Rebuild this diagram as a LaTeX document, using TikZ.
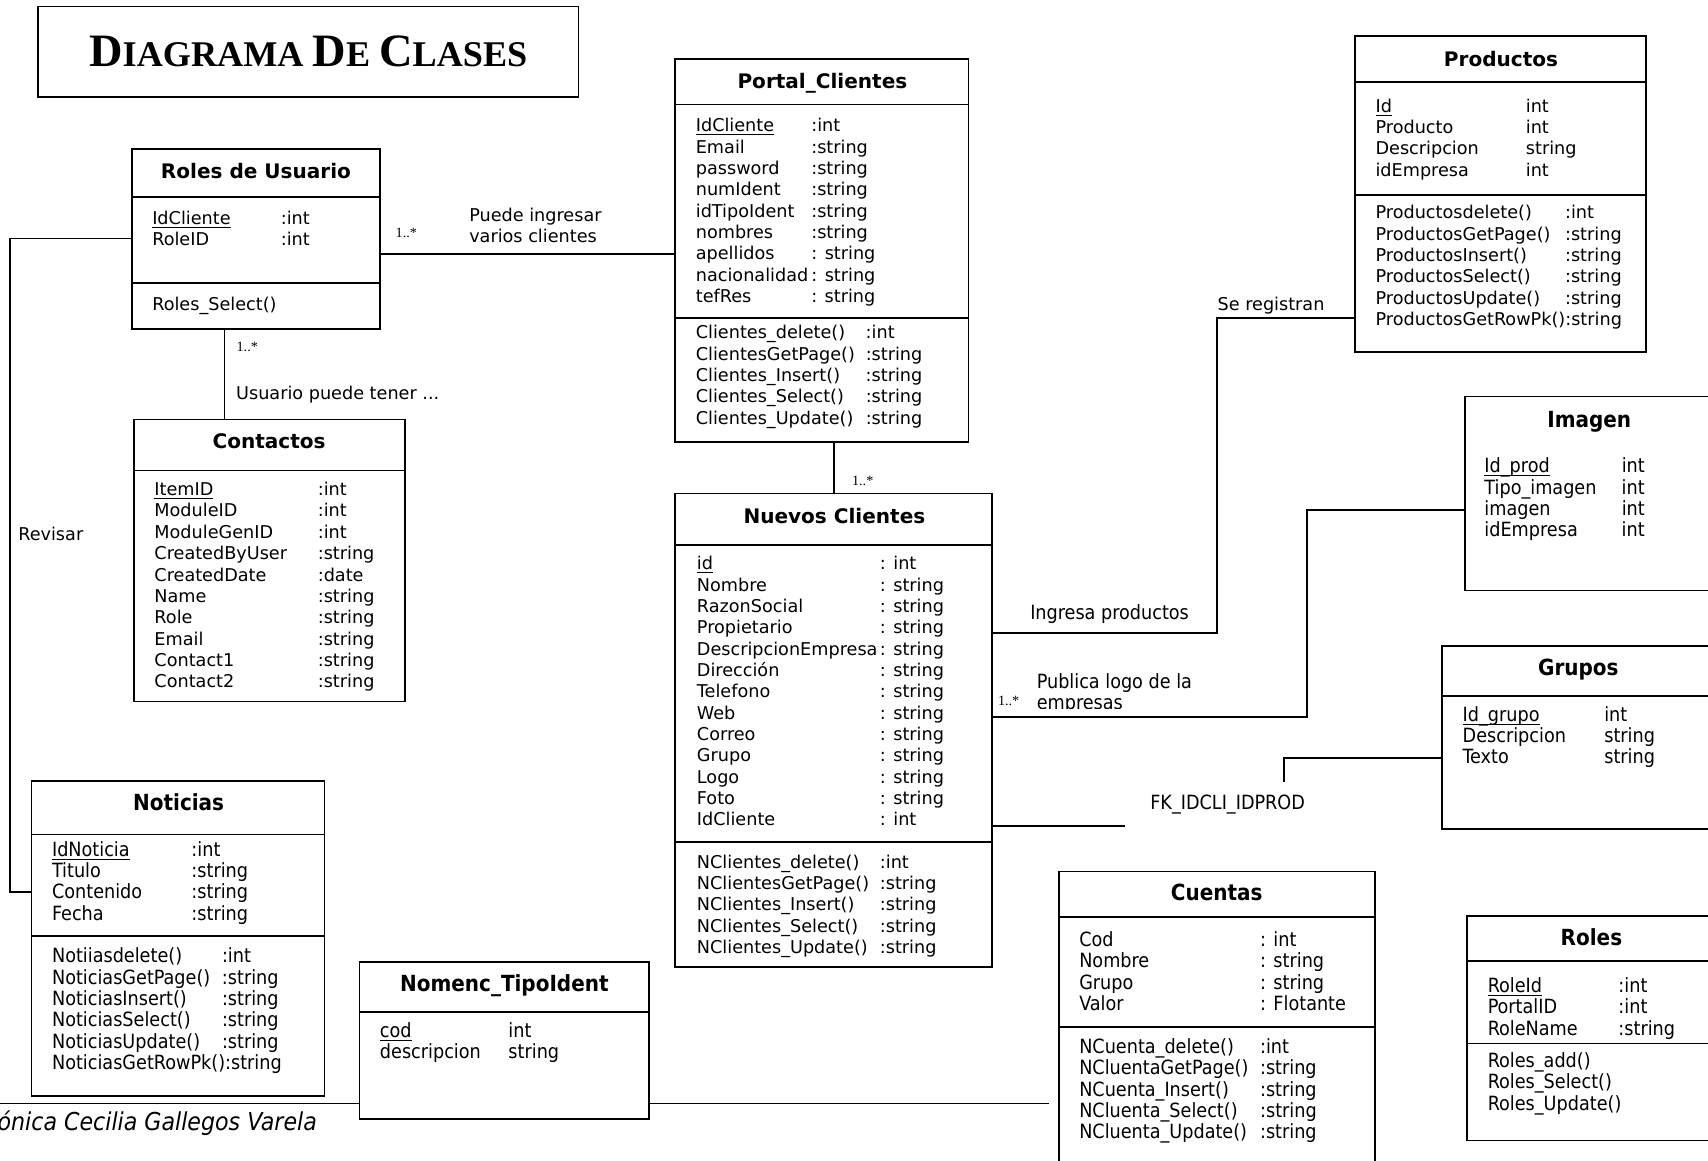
\documentclass[tikz,border=0pt]{standalone}
\usepackage{fontspec}
\setmainfont{DejaVu Sans}
\newfontfamily\condfont{DejaVu Sans Condensed}
\newfontfamily\timesfont{Liberation Serif}
\usetikzlibrary{fit}

% rows of a class box: width of the name column, then name & type rows
\newcommand\clsrows[2]{\begin{tabular}[t]{@{}p{#1}@{}l@{}}#2\end{tabular}}
\newcommand\lblines[1]{\begin{tabular}[t]{@{}l@{}}#1\end{tabular}}
\newcommand\pkey[1]{\underline{\smash{#1}}}
\newcommand\bigsc[2]{{\fontsize{21.3}{24}\selectfont #1}{\fontsize{16.6}{20}\selectfont #2}}

\tikzset{
  cls/.style={draw, inner sep=0pt},
  clstitle/.style={anchor=base, inner sep=0pt, font=\fontsize{9.2}{11}\selectfont\bfseries},
  ctitle/.style={anchor=base, inner sep=0pt, font=\condfont\fontsize{10.2}{12}\selectfont\bfseries},
  body/.style={anchor=base west, inner sep=0pt, font=\fontsize{8.1}{9.8}\selectfont},
  cbody/.style={anchor=base west, inner sep=0pt, font=\condfont\fontsize{9}{9.8}\selectfont},
  mult/.style={anchor=base, inner sep=0pt, font=\timesfont\fontsize{6.5}{7}\selectfont},
}

\begin{document}
\begin{tikzpicture}[x=0.5pt, y=-0.5pt, line width=0.8pt]
    \useasboundingbox (0,0) rectangle (1568,1065);
    \clip (0,0) rectangle (1568,1065);

    % Title
    \node[cls, fit={(35,6) (531,89)}] (titlebox) {};
    \node[anchor=base, inner sep=0pt, font=\timesfont\bfseries\fontsize{16.6}{20}\selectfont] (ttl) at (283,61)
        {\bigsc{D}{IAGRAMA} \bigsc{D}{E} \bigsc{C}{LASES}};

    % Roles de Usuario
    \node[cls, fit={(121,137) (349,302)}] (roles) {};
    \draw (roles.west |- 0,181) -- (roles.east |- 0,181);
    \draw (roles.west |- 0,260) -- (roles.east |- 0,260);
    \node[clstitle] (roles-t) at (235,164) {Roles de Usuario};
    \node[body] (roles-a) at (139,206) {\clsrows{59pt}{\pkey{IdCliente} & :int\\ RoleID & :int}};
    \node[body] (roles-m) at (139,285) {Roles\_Select()};

    % Portal_Clientes
    \node[cls, fit={(620,54) (889,406)}] (portal) {};
    \draw (portal.west |- 0,96) -- (portal.east |- 0,96);
    \draw (portal.west |- 0,292) -- (portal.east |- 0,292);
    \node[clstitle] (portal-t) at (755,81) {Portal\_Clientes};
    \node[body] (portal-a) at (638,121) {\clsrows{53pt}{\pkey{IdCliente} & :int\\ Email & :string\\ password & :string\\
        numIdent & :string\\ idTipoIdent & :string\\ nombres & :string\\ apellidos & : string\\
        nacionalidad & : string\\ tefRes & : string}};
    \node[body] (portal-m) at (638,311) {\clsrows{78pt}{Clientes\_delete() & :int\\ ClientesGetPage() & :string\\
        Clientes\_Insert() & :string\\ Clientes\_Select() & :string\\ Clientes\_Update() & :string}};

    % Productos
    \node[cls, fit={(1244,33) (1511,323)}] (productos) {};
    \draw (productos.west |- 0,75) -- (productos.east |- 0,75);
    \draw (productos.west |- 0,179) -- (productos.east |- 0,179);
    \node[clstitle] (productos-t) at (1378,61) {Productos};
    \node[body] (productos-a) at (1262,103) {\clsrows{69pt}{\pkey{Id} & int\\ Producto & int\\ Descripcion & string\\ idEmpresa & int}};
    \node[body] (productos-m) at (1262,201) {\clsrows{87pt}{Productosdelete() & :int\\ ProductosGetPage() & :string\\
        ProductosInsert() & :string\\ ProductosSelect() & :string\\ ProductosUpdate() & :string\\
        \multicolumn{2}{@{}l@{}}{ProductosGetRowPk():string}}};

    % Imagen
    \node[cls, fit={(1345,364) (1600,542)}] (imagen) {};
    \node[ctitle] (imagen-t) at (1459,392) {Imagen};
    \node[cbody] (imagen-a) at (1362,434) {\clsrows{63pt}{\pkey{Id\_prod} & int\\ Tipo\_imagen & int\\ imagen & int\\ idEmpresa & int}};

    % Grupos
    \node[cls, fit={(1324,593) (1600,761)}] (grupos) {};
    \draw (grupos.west |- 0,639) -- (grupos.east |- 0,639);
    \node[ctitle] (grupos-t) at (1449,620) {Grupos};
    \node[cbody] (grupos-a) at (1342,662) {\clsrows{65pt}{\pkey{Id\_grupo} & int\\ Descripcion & string\\ Texto & string}};

    % Roles
    \node[cls, fit={(1347,841) (1600,1047)}] (rolestab) {};
    \draw (rolestab.west |- 0,882) -- (rolestab.east |- 0,882);
    \draw (rolestab.west |- 0,958) -- (rolestab.east |- 0,958);
    \node[ctitle] (rolestab-t) at (1461,868) {Roles};
    \node[cbody] (rolestab-a) at (1365,911) {\clsrows{60pt}{\pkey{RoleId} & :int\\ PortalID & :int\\ RoleName & :string}};
    \node[cbody] (rolestab-m) at (1365,980) {\lblines{Roles\_add()\\ Roles\_Select()\\ Roles\_Update()}};

    % Cuentas
    \node[cls, fit={(972,800) (1262,1100)}] (cuentas) {};
    \draw (cuentas.west |- 0,842) -- (cuentas.east |- 0,842);
    \draw (cuentas.west |- 0,943) -- (cuentas.east |- 0,943);
    \node[ctitle] (cuentas-t) at (1117,827) {Cuentas};
    \node[cbody] (cuentas-a) at (990,869) {\clsrows{83pt}{Cod & : int\\ Nombre & : string\\ Grupo & : string\\ Valor & : Flotante}};
    \node[cbody] (cuentas-m) at (990,967) {\clsrows{83pt}{NCuenta\_delete() & :int\\ NCluentaGetPage() & :string\\
        NCuenta\_Insert() & :string\\ NCluenta\_Select() & :string\\ NCluenta\_Update() & :string}};

    % Nuevos Clientes
    \node[cls, fit={(620,453) (911,888)}] (nuevos) {};
    \draw (nuevos.west |- 0,500) -- (nuevos.east |- 0,500);
    \draw (nuevos.west |- 0,773) -- (nuevos.east |- 0,773);
    \node[clstitle] (nuevos-t) at (766,481) {Nuevos Clientes};
    \node[body] (nuevos-a) at (639,523) {\clsrows{84pt}{\pkey{id} & : int\\ Nombre & : string\\ RazonSocial & : string\\
        Propietario & : string\\ DescripcionEmpresa & : string\\ Dirección & : string\\ Telefono & : string\\
        Web & : string\\ Correo & : string\\ Grupo & : string\\ Logo & : string\\ Foto & : string\\ IdCliente & : int}};
    \node[body] (nuevos-m) at (639,797) {\clsrows{84pt}{NClientes\_delete() & :int\\ NClientesGetPage() & :string\\
        NClientes\_Insert() & :string\\ NClientes\_Select() & :string\\ NClientes\_Update() & :string}};

    % Contactos
    \node[cls, fit={(123,385) (372,644)}] (contactos) {};
    \draw (contactos.west |- 0,432) -- (contactos.east |- 0,432);
    \node[clstitle] (contactos-t) at (247,412) {Contactos};
    \node[body] (contactos-a) at (141,455) {\clsrows{75pt}{\pkey{ItemID} & :int\\ ModuleID & :int\\ ModuleGenID & :int\\
        CreatedByUser & :string\\ CreatedDate & :date\\ Name & :string\\ Role & :string\\ Email & :string\\
        Contact1 & :string\\ Contact2 & :string}};

    % Noticias
    \node[cls, fit={(29,717) (298,1006)}] (noticias) {};
    \draw (noticias.west |- 0,766) -- (noticias.east |- 0,766);
    \draw (noticias.west |- 0,859) -- (noticias.east |- 0,859);
    \node[ctitle] (noticias-t) at (164,744) {Noticias};
    \node[cbody] (noticias-a) at (47,786) {\clsrows{64pt}{\pkey{IdNoticia} & :int\\ Titulo & :string\\ Contenido & :string\\ Fecha & :string}};
    \node[cbody] (noticias-m) at (47,884) {\clsrows{78pt}{Notiiasdelete() & :int\\ NoticiasGetPage() & :string\\
        NoticiasInsert() & :string\\ NoticiasSelect() & :string\\ NoticiasUpdate() & :string\\
        \multicolumn{2}{@{}l@{}}{NoticiasGetRowPk():string}}};

    % Nomenc_TipoIdent
    \node[cls, fit={(330,883) (596,1027)}] (nomenc) {};
    \draw (nomenc.west |- 0,929) -- (nomenc.east |- 0,929);
    \node[ctitle] (nomenc-t) at (463,910) {Nomenc\_TipoIdent};
    \node[cbody] (nomenc-a) at (348,952) {\clsrows{59pt}{\pkey{cod} & int\\ descripcion & string}};

    % Associations
    \draw (roles.east |- 0,233) -- (portal.west |- 0,233);
    \node[mult] (m-portal) at (373,218) {1..*};
    \node[body] (l-portal) at (430,203) {\lblines{Puede ingresar\\ varios clientes}};

    \draw (roles.south -| 206,0) -- (contactos.north -| 206,0);
    \node[mult] (m-contactos) at (227,323) {1..*};
    \node[body] (l-contactos) at (216,367) {Usuario puede tener ...};

    \draw (roles.west |- 0,219) -| (9,819) -- (noticias.west |- 0,819);
    \node[body] (l-revisar) at (16,496) {Revisar};

    \draw (portal.south -| nuevos.north) -- (nuevos.north);
    \node[mult] (m-nuevos) at (792,446) {1..*};

    \draw (nuevos.east |- 0,581) -| (1117,292) -- (productos.west |- 0,292);
    \node[body] (l-registran) at (1117,285) {Se registran};
    \node[cbody] (l-ingresa) at (945,569) {Ingresa productos};

    \draw (nuevos.east |- 0,658) -| (1200,468) -- (imagen.west |- 0,468);
    \node[mult] (m-imagen) at (926,648) {1..*};
    \begin{scope}
        \clip (940,600) rectangle (1190,650);
        \node[cbody] (l-publica) at (951,632) {\lblines{Publica logo de la\\ empresas}};
    \end{scope}

    % FK link, drawn in two pieces
    \coordinate (fkend) at (1033,758);
    \coordinate (fkstub) at (1179,718);
    \draw (nuevos.east |- 0,758) -- (fkend);
    \draw (grupos.west |- 0,696) -| (fkstub);
    \node[anchor=base, inner sep=0pt, font=\condfont\fontsize{9}{9.8}\selectfont] (l-fk) at (1127,743) {FK\_IDCLI\_IDPROD};

    % Bottom line
    \coordinate (leftend) at (0,1013);
    \coordinate (cuentasend) at (963,1013);
    \draw (leftend) -- (nomenc.west |- 0,1013);
    \draw (nomenc.east |- 0,1013) -- (cuentasend);
    \node[anchor=base west, inner sep=0pt, font=\condfont\itshape\fontsize{11.3}{13}\selectfont] (author) at (-3,1038)
        {ónica Cecilia Gallegos Varela};
\end{tikzpicture}
\end{document}
